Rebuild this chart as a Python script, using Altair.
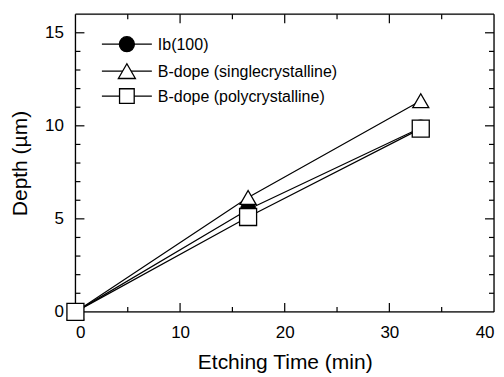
import altair as alt
import pandas as pd

# ---- data ----
series_names = ["Ib(100)", "B-dope (singlecrystalline)", "B-dope (polycrystalline)"]
etch_time = [0, 16.5, 33]
depth_ib = [0, 5.5, 9.9]
depth_single = [0, 6.15, 11.35]
depth_poly = [0, 5.1, 9.85]

x_major = [0, 10, 20, 30, 40]
x_minor = [5, 15, 25, 35]
y_major = [0, 5, 10, 15]
y_minor = [1, 2, 3, 4, 6, 7, 8, 9, 11, 12, 13, 14]

rows = []
for name, ys in zip(series_names, [depth_ib, depth_single, depth_poly]):
    for t, d in zip(etch_time, ys):
        rows.append({"series": name, "time": t, "depth": d})
df = pd.DataFrame(rows)

W, H = 419, 298
FONT = "Liberation Sans"

xscale = alt.Scale(domain=[0, 40], nice=False, zero=False)
yscale = alt.Scale(domain=[0, 16], nice=False, zero=False)

xaxis = alt.Axis(values=x_major, ticks=False, domain=False, grid=False,
                 labelFontSize=17, labelPadding=13, labelColor="black",
                 title="Etching Time (min)", titleFontSize=21, titleFontWeight="normal",
                 titlePadding=11, titleColor="black", labelFont=FONT, titleFont=FONT)
yaxis = alt.Axis(values=y_major, ticks=False, domain=False, grid=False,
                 labelFontSize=17, labelPadding=12, labelColor="black",
                 title="Depth (\u00b5m)", titleFontSize=21, titleFontWeight="normal",
                 titlePadding=14, titleColor="black", labelFont=FONT, titleFont=FONT)

shape_scale = alt.Scale(domain=series_names, range=["circle", "triangle-up", "square"])
fill_scale = alt.Scale(domain=series_names, range=["black", "white", "white"])
size_scale = alt.Scale(domain=series_names, range=[225, 290, 215])

lines = alt.Chart(df).mark_line(color="black", strokeWidth=1.2).encode(
    x=alt.X("time:Q", scale=xscale, axis=xaxis),
    y=alt.Y("depth:Q", scale=yscale, axis=yaxis),
    detail="series:N",
)

points = alt.Chart(df).mark_point(filled=False, stroke="black", strokeWidth=1.3, opacity=1).encode(
    x=alt.X("time:Q", scale=xscale),
    y=alt.Y("depth:Q", scale=yscale),
    shape=alt.Shape("series:N", scale=shape_scale, legend=None),
    fill=alt.Fill("series:N", scale=fill_scale, legend=None),
    size=alt.Size("series:N", scale=size_scale, legend=None),
    order=alt.Order("order:Q"),
).transform_calculate(
    order="indexof(%s, datum.series)" % str(series_names)
)

# frame and inward tick marks on all four sides
one = pd.DataFrame({"a": [0]})
frame = [
    alt.Chart(one).mark_rule(color="black", strokeWidth=1.3).encode(
        x=alt.value(0), x2=alt.value(W), y=alt.value(0)),
    alt.Chart(one).mark_rule(color="black", strokeWidth=1.3).encode(
        x=alt.value(0), x2=alt.value(W), y=alt.value(H)),
    alt.Chart(one).mark_rule(color="black", strokeWidth=1.3).encode(
        x=alt.value(0), y=alt.value(0), y2=alt.value(H)),
    alt.Chart(one).mark_rule(color="black", strokeWidth=1.3).encode(
        x=alt.value(W), y=alt.value(0), y2=alt.value(H)),
]

def xticks(vals, length):
    d = pd.DataFrame({"v": vals})
    b = alt.Chart(d).mark_rule(color="black", strokeWidth=1.2).encode(
        x=alt.X("v:Q", scale=xscale), y=alt.value(H), y2=alt.value(H - length))
    t = alt.Chart(d).mark_rule(color="black", strokeWidth=1.2).encode(
        x=alt.X("v:Q", scale=xscale), y=alt.value(0), y2=alt.value(length))
    return [b, t]

def yticks(vals, length):
    d = pd.DataFrame({"v": vals})
    l = alt.Chart(d).mark_rule(color="black", strokeWidth=1.2).encode(
        y=alt.Y("v:Q", scale=yscale), x=alt.value(0), x2=alt.value(length))
    r = alt.Chart(d).mark_rule(color="black", strokeWidth=1.2).encode(
        y=alt.Y("v:Q", scale=yscale), x=alt.value(W), x2=alt.value(W - length))
    return [l, r]

tick_layers = (xticks([v for v in x_major if 0 < v < 40], 9) + xticks(x_minor, 5)
               + yticks([v for v in y_major if v > 0], 9) + yticks(y_minor, 5))

# manual legend (line + marker + label)
leg_rows_y = [30, 57, 82]
leg_shapes = ["circle", "triangle-up", "square"]
leg_fills = ["black", "white", "white"]
leg_sizes = [225, 290, 215]
legend_layers = []
for name, yy, shp, fl, sz in zip(series_names, leg_rows_y, leg_shapes, leg_fills, leg_sizes):
    legend_layers.append(alt.Chart(one).mark_rule(color="black", strokeWidth=1.2).encode(
        x=alt.value(26.5), x2=alt.value(76.5), y=alt.value(yy)))
    legend_layers.append(alt.Chart(one).mark_point(shape=shp, fill=fl, filled=False, stroke="black",
                                                   strokeWidth=1.3, size=sz, opacity=1).encode(
        x=alt.value(51.5), y=alt.value(yy)))
    legend_layers.append(alt.Chart(pd.DataFrame({"t": [name]})).mark_text(
        align="left", baseline="middle", fontSize=16, font=FONT, color="black").encode(
        x=alt.value(82.5), y=alt.value(yy + 1), text="t:N"))

chart = alt.layer(lines, *frame, *tick_layers, points, *legend_layers).properties(
    width=W, height=H,
    autosize=alt.AutoSizeParams(type="none"),
    padding={"left": 67.5, "top": 6, "right": 2, "bottom": 63},
).configure_view(stroke=None).configure(background="white")

chart.save("out.html", embed_options={"renderer": "svg", "actions": False})
